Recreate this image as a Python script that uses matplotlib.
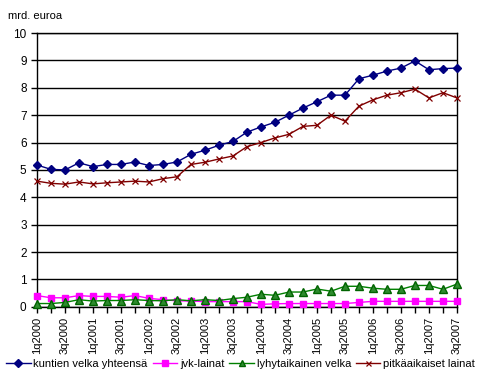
import matplotlib.pyplot as plt
import numpy as np

plt.rcParams['font.family'] = ['Liberation Sans', 'DejaVu Sans']

quarters = []
for year in range(2000, 2008):
    for q in range(1, 5):
        quarters.append(f"{q}q{year}")
quarters = quarters[:31]  # 1q2000 .. 3q2007

# mrd. euroa
kuntien_velka = [5.18, 5.02, 5.00, 5.26, 5.12, 5.20, 5.20, 5.29, 5.16, 5.20,
                 5.29, 5.57, 5.72, 5.90, 6.04, 6.38, 6.57, 6.74, 7.00, 7.26,
                 7.49, 7.73, 7.73, 8.33, 8.46, 8.61, 8.72, 8.98, 8.66, 8.70, 8.72]
jvk_lainat = [0.41, 0.33, 0.33, 0.41, 0.38, 0.38, 0.35, 0.41, 0.31, 0.26,
              0.22, 0.21, 0.19, 0.19, 0.19, 0.19, 0.09, 0.11, 0.12, 0.12,
              0.12, 0.12, 0.12, 0.16, 0.20, 0.20, 0.20, 0.20, 0.20, 0.20, 0.20]
lyhyt_velka = [0.12, 0.12, 0.16, 0.26, 0.21, 0.23, 0.23, 0.26, 0.23, 0.22,
               0.26, 0.22, 0.26, 0.23, 0.30, 0.35, 0.46, 0.42, 0.54, 0.54,
               0.65, 0.57, 0.75, 0.75, 0.68, 0.64, 0.64, 0.78, 0.78, 0.64, 0.83]
pitka_lainat = [4.59, 4.51, 4.48, 4.56, 4.49, 4.53, 4.56, 4.59, 4.56, 4.68,
                4.75, 5.20, 5.28, 5.40, 5.51, 5.85, 6.00, 6.17, 6.30, 6.59,
                6.63, 7.00, 6.78, 7.33, 7.56, 7.73, 7.82, 7.95, 7.63, 7.82, 7.63]

x = np.arange(len(quarters))

fig = plt.figure(figsize=(4.97, 3.84), dpi=100)
ax = fig.add_axes([0.0744, 0.201, 0.845, 0.713])

ax.plot(x, kuntien_velka, color="#000080", marker="D", markersize=4.5, lw=1,
        label="kuntien velka yhteensä", clip_on=False, zorder=5)
ax.plot(x, jvk_lainat, color="#FF00FF", marker="s", markersize=5, lw=1,
        label="jvk-lainat", clip_on=False, zorder=4)
ax.plot(x, lyhyt_velka, color="#008000", marker="^", markersize=5.5, lw=1,
        markerfacecolor="#2E8B2E", markeredgecolor="#006400",
        label="lyhytaikainen velka", clip_on=False, zorder=4)
ax.plot(x, pitka_lainat, color="#800000", marker="x", markersize=4.5, lw=1,
        markeredgewidth=0.9, label="pitkäaikaiset lainat", clip_on=False, zorder=5)

ax.set_xlim(0, 30)
ax.set_ylim(0, 10)
ax.set_yticks(range(0, 11))
ax.set_xticks(x[::2])
ax.set_xticklabels(quarters[::2], rotation=90, fontsize=8)
ax.set_xticks(x, minor=True)
ax.tick_params(axis="x", which="both", direction="out", length=4, width=1)
ax.tick_params(axis="y", direction="out", length=4, width=1, labelsize=8.5)
ax.grid(axis="y", color="black", lw=1)
ax.set_axisbelow(True)
for s in ax.spines.values():
    s.set_linewidth(1)

fig.text(0.016, 0.95, "mrd. euroa", fontsize=8)

fig.legend(loc="center", bbox_to_anchor=(0.484, 0.052), ncol=4, frameon=False,
           fontsize=8, handlelength=2.2, handletextpad=0.25, columnspacing=0.45,
           markerscale=0.8)

plt.savefig("out.png", dpi=100)
